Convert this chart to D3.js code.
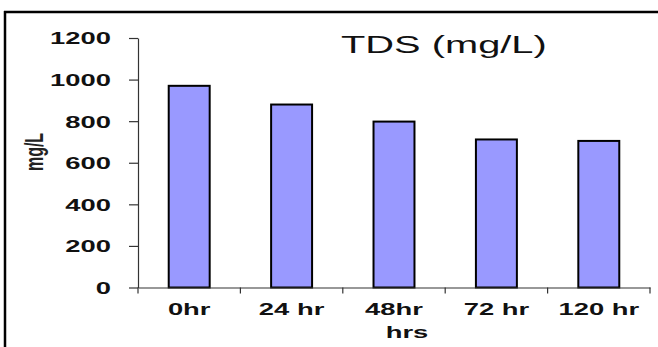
<!DOCTYPE html>
<html>
<head>
<meta charset="utf-8">
<script src="https://cdn.jsdelivr.net/npm/d3@7"></script>
<style>
  html, body { margin: 0; padding: 0; background: #fff; }
  svg { display: block; }
  text { font-family: "Liberation Sans", Arial, sans-serif; }
</style>
</head>
<body>
<svg id="chart" width="658" height="347"></svg>
<script>
// TDS readings over time
const categories = ["0hr", "24 hr", "48hr", "72 hr", "120 hr"];
const tdsValues = [970, 880, 798, 712, 705];
const yTicks = [0, 200, 400, 600, 800, 1000, 1200];
const chartTitle = "TDS (mg/L)";
const xTitle = "hrs";
const yTitle = "mg/L";

const svg = d3.select("#chart");
const W = 658, H = 347;
const SX = 1.66; // horizontal text stretch used throughout the figure

// frame: top and left rules
svg.append("line").attr("x1", 4).attr("x2", W).attr("y1", 12).attr("y2", 12)
  .attr("stroke", "#000").attr("stroke-width", 2.5);
svg.append("line").attr("x1", 5).attr("x2", 5).attr("y1", 11).attr("y2", H)
  .attr("stroke", "#000").attr("stroke-width", 2.5);

const plot = { left: 138, right: 650, top: 38, bottom: 287.5 };

const x = d3.scaleBand().domain(categories)
  .range([plot.left, plot.right]).paddingInner(0.6).paddingOuter(0.3);
const y = d3.scaleLinear().domain([0, 1200]).range([plot.bottom, plot.top]);

// bars
svg.append("g").selectAll("rect").data(tdsValues).join("rect")
  .attr("x", (d, i) => x(categories[i]))
  .attr("y", d => y(d))
  .attr("width", x.bandwidth())
  .attr("height", d => y(0) - y(d))
  .attr("fill", "#9999ff")
  .attr("stroke", "#000")
  .attr("stroke-width", 2);

// y axis
const yAxis = svg.append("g").attr("transform", `translate(${plot.left},0)`)
  .call(d3.axisLeft(y).tickValues(yTicks).tickSize(9).tickSizeOuter(0).tickFormat(d3.format("d")));
yAxis.select(".domain").attr("stroke", "#333").attr("stroke-width", 1.2);
yAxis.selectAll(".tick line").attr("stroke", "#333").attr("stroke-width", 1.2);
yAxis.selectAll(".tick text")
  .attr("x", -27 / SX).attr("dy", "0.36em")
  .attr("transform", `scale(${SX},1)`)
  .attr("font-size", 16.5).attr("font-weight", "bold").attr("fill", "#111")
  .attr("font-family", "'Liberation Sans', Arial, sans-serif");

// x axis: line, category labels at band centres, ticks at band boundaries
const xAxis = svg.append("g").attr("transform", `translate(0,${plot.bottom})`)
  .call(d3.axisBottom(x).tickSize(0).tickSizeOuter(0));
xAxis.select(".domain").attr("stroke", "#333").attr("stroke-width", 1.2);
xAxis.selectAll(".tick text")
  .attr("x", 0).attr("y", 27.5).attr("dy", 0)
  .attr("transform", `scale(${SX},1)`)
  .attr("font-size", 16.5).attr("font-weight", "bold").attr("fill", "#111")
  .attr("font-family", "'Liberation Sans', Arial, sans-serif");

const boundaries = d3.range(categories.length + 1).map(i => x.range()[0] + i * x.step());
xAxis.selectAll(".bound").data(boundaries).join("line")
  .attr("class", "bound")
  .attr("x1", d => d).attr("x2", d => d)
  .attr("y1", 0).attr("y2", 6)
  .attr("stroke", "#333").attr("stroke-width", 1.2);

// titles
svg.append("text")
  .attr("transform", `translate(341,53) scale(${SX},1)`)
  .attr("font-size", 24).attr("fill", "#111")
  .text(chartTitle);

svg.append("text")
  .attr("transform", `translate(407,338) scale(${SX},1)`)
  .attr("text-anchor", "middle")
  .attr("font-size", 16.5).attr("font-weight", "bold").attr("fill", "#111")
  .text(xTitle);

svg.append("text")
  .attr("transform", `translate(43,152) scale(${SX},1) rotate(-90)`)
  .attr("text-anchor", "middle")
  .attr("font-size", 16).attr("font-weight", "bold").attr("fill", "#222")
  .text(yTitle);
</script>
</body>
</html>
